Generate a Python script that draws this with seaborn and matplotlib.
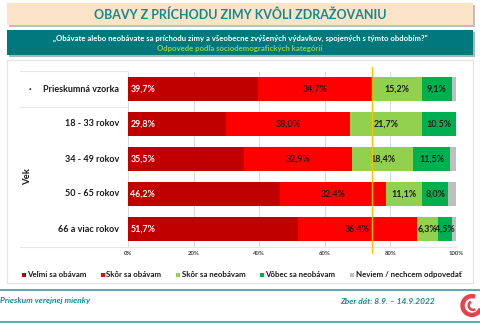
import matplotlib
matplotlib.use("Agg")
import matplotlib.pyplot as plt
import seaborn as sns
import pandas as pd
from matplotlib.patches import Rectangle, Arc
from matplotlib.lines import Line2D

# ---------------- data ----------------
categories = ["Prieskumná vzorka", "18 - 33 rokov", "34 - 49 rokov",
              "50 - 65 rokov", "66 a viac rokov"]
series_names = ["Veľmi sa obávam", "Skôr sa obávam", "Skôr sa neobávam",
                "Vôbec sa neobávam", "Neviem / nechcem odpovedať"]
velmi_sa_obavam = [39.7, 29.8, 35.5, 46.2, 51.7]
skor_sa_obavam = [34.7, 38.0, 32.9, 32.4, 36.4]
skor_sa_neobavam = [15.2, 21.7, 18.4, 11.1, 6.3]
vobec_sa_neobavam = [9.1, 10.5, 11.5, 8.0, 4.5]
neviem = [1.3, 0.0, 1.7, 2.3, 1.1]
series_colors = ["#C00000", "#FF0000", "#92D050", "#00B050", "#BFBFBF"]
x_ticks = [0, 20, 40, 60, 80, 100]
x_tick_labels = ["0%", "20%", "40%", "60%", "80%", "100%"]
reference_line = 74.4  # sample total of "Veľmi" + "Skôr sa obávam"

title = "OBAVY Z PRÍCHODU ZIMY KVÔLI ZDRAŽOVANIU"
question = "„Obávate alebo neobávate sa príchodu zimy a všeobecne zvýšených výdavkov, spojených s týmto obdobím?\""
subtitle = "Odpovede podľa sociodemografických kategórií"
group_label = "Vek"
footer_left = "Prieskum verejnej mienky"
footer_right = "Zber dát: 8.9. – 14.9.2022"

# ---------------- style ----------------
sns.set_theme(style="white")
plt.rcParams["font.family"] = ["Lato", "DejaVu Sans"]

W, H = 480, 323
fig = plt.figure(figsize=(W / 100, H / 100), dpi=100)
fig.patch.set_facecolor("white")


def fx(x):
    return x / W


def fy(y):
    return 1 - y / H


def rect(x0, y0, x1, y1, **kw):
    r = Rectangle((fx(x0), fy(y1)), fx(x1) - fx(x0), fy(y0) - fy(y1),
                  transform=fig.transFigure, **kw)
    fig.add_artist(r)
    return r


TEAL = "#00787C"
TEAL_TXT = "#138A8F"

# title box with shadow
rect(9, 5, 475, 27, facecolor="#BFBFBF", edgecolor="none", zorder=-3)
rect(7, 3, 473, 25, facecolor="#FAE3C6", edgecolor="none", zorder=-2)
fig.text(fx(240), fy(14.5), title, ha="center", va="center", fontsize=9.0,
         fontweight="bold", color=TEAL_TXT, zorder=2)

# question box with shadow
rect(9, 32, 475, 57, facecolor="#9FB8B8", edgecolor="none", zorder=-3)
rect(7, 30, 473, 55, facecolor=TEAL, edgecolor="none", zorder=-2)
fig.text(fx(240), fy(38.5), question, ha="center", va="center", fontsize=5.6,
         fontweight="bold", color="white", zorder=2)
fig.text(fx(240), fy(48), subtitle, ha="center", va="center", fontsize=5.6,
         fontweight="bold", color="#92D050", zorder=2)

# chart panel
rect(7, 60, 473, 283, facecolor="white", edgecolor="#E3E3E3", lw=0.8, zorder=-3)
# label area lines
for yy in (71, 106.5, 246.5):
    fig.add_artist(Line2D([fx(20), fx(128)], [fy(yy), fy(yy)], transform=fig.transFigure,
                          color="#E6E6E6", lw=0.8, zorder=-1))

# ---------------- bars ----------------
ax = fig.add_axes([fx(128), fy(246.5), fx(456) - fx(128), fy(71.5) - fy(246.5)])
ax.set_facecolor("none")
ax.set_zorder(5)

series_values = [velmi_sa_obavam, skor_sa_obavam, skor_sa_neobavam,
                 vobec_sa_neobavam, neviem]
rows = []
for s, vals in zip(series_names, series_values):
    for c, v in zip(categories, vals):
        rows.append({"category": c, "series": s, "value": v})
df = pd.DataFrame(rows)
df["series"] = pd.Categorical(df["series"], series_names, ordered=True)
df["category"] = pd.Categorical(df["category"], categories, ordered=True)
df = df.sort_values(["category", "series"])
df["cum"] = df.groupby("category", observed=True)["value"].cumsum()
df["left"] = df["cum"] - df["value"]

# draw cumulative layers back-to-front
for s, col in reversed(list(zip(series_names, series_colors))):
    sub = df[df["series"] == s]
    sns.barplot(data=sub, x="cum", y="category", order=categories, color=col,
                orient="h", width=0.66, saturation=1, linewidth=0, ax=ax,
                zorder=3)

# data labels
for _, r in df.iterrows():
    if r["series"] == series_names[-1]:
        continue
    i = categories.index(r["category"])
    txt = f"{r['value']:.1f}%".replace(".", ",")
    if r["series"] == series_names[0]:
        ax.text(r["left"] + 0.7, i, txt, ha="left", va="center", fontsize=6.4,
                fontweight="bold", color="white", zorder=5)
    else:
        ax.text(r["left"] + r["value"] / 2, i, txt, ha="center", va="center",
                fontsize=6.4, fontweight="bold", color="#1A1A1A", zorder=5)

ax.set_xlim(0, 100)
ax.set_ylim(len(categories) - 0.5, -0.5)
ax.set_xticks(x_ticks)
ax.set_xticklabels(x_tick_labels)
ax.set_yticks([])
ax.set_xlabel("")
ax.set_ylabel("")
ax.tick_params(axis="x", length=0, pad=3.5, labelsize=4.3, labelcolor="#404040")
for lab in ax.get_xticklabels():
    lab.set_fontweight("bold")
ax.xaxis.grid(True, color="#DCDCDC", lw=0.8, zorder=0)
ax.set_axisbelow(True)
for sp in ["top", "right", "left"]:
    ax.spines[sp].set_visible(False)
ax.spines["bottom"].set_color("#E6E6E6")
ax.spines["bottom"].set_linewidth(0.8)

# reference line
ax.plot([reference_line, reference_line], [-0.62, 4.68], color="#FFC000", lw=1.0,
        zorder=6, clip_on=False)

# row labels
for i, c in enumerate(categories):
    ax.text(-2.8, i, c, ha="right", va="center", fontsize=6.5, fontweight="bold",
            color="#1A1A1A", clip_on=False)
fig.text(fx(30), fy(89), "·", ha="center", va="center", fontsize=7,
         fontweight="bold", color="#1A1A1A")
fig.text(fx(28), fy(176.5), group_label, ha="center", va="center", rotation=90,
         fontsize=6.8, fontweight="bold", color="#1A1A1A")

# ---------------- legend ----------------
legend_x = [22, 101, 176, 260, 350]
for name, col, x in zip(series_names, series_colors, legend_x):
    rect(x, 272.5, x + 4, 276.5, facecolor=col, edgecolor="none", zorder=3)
    fig.text(fx(x + 5.5), fy(274.8), name, ha="left", va="center", fontsize=5.7,
             fontweight="bold", color="#1A1A1A")

# ---------------- footer ----------------
fig.add_artist(Line2D([0, 1], [fy(289.5), fy(289.5)], transform=fig.transFigure,
                      color="#3E9A9E", lw=1.2))
fig.add_artist(Line2D([0, 1], [fy(322), fy(322)], transform=fig.transFigure,
                      color="#3E9A9E", lw=1.2))
fig.text(fx(0), fy(301), footer_left, ha="left", va="center", fontsize=6.0,
         fontweight="bold", style="italic", color=TEAL_TXT)
fig.text(fx(435), fy(301), footer_right, ha="right", va="center", fontsize=6.0,
         fontweight="bold", style="italic", color=TEAL_TXT)

# logo ring
ax_logo = fig.add_axes([fx(455), fy(318), fx(25), fy(0) - fy(25)])
ax_logo.set_zorder(6)
ax_logo.set_xlim(-1, 1)
ax_logo.set_ylim(-1, 1)
ax_logo.set_aspect("equal")
ax_logo.axis("off")
ax_logo.add_patch(Arc((0.35, 0), 1.5, 1.5, theta1=70, theta2=340,
                      color="#E8424E", lw=3.2))
ax_logo.add_patch(Arc((0.45, 0), 0.7, 0.7, theta1=120, theta2=300,
                      color="#E8424E", lw=1.8))

fig.savefig("out.png", dpi=100, facecolor="white")
